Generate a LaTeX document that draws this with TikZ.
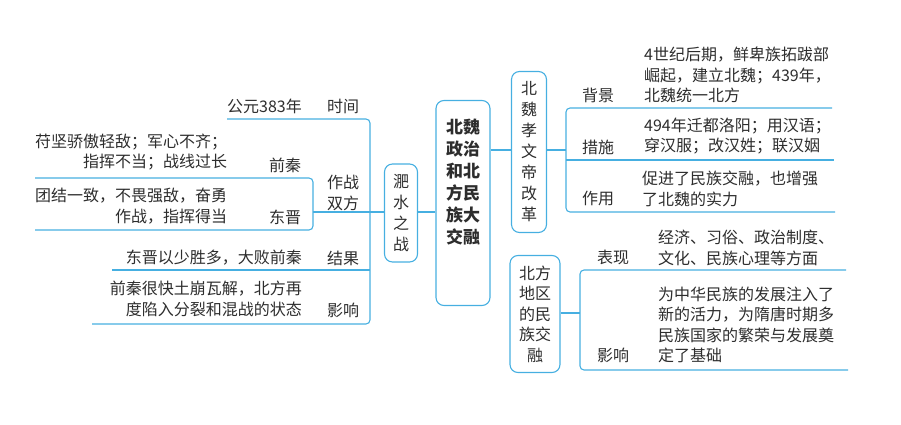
\documentclass[tikz,border=0pt]{standalone}
\usepackage{fontspec}
\newfontfamily\cjk{Noto Sans CJK SC}
\definecolor{mapline}{RGB}{70,175,225}
\definecolor{maptext}{RGB}{45,45,45}
\tikzset{
  branch/.style={draw=mapline, line width=1.1pt, rounded corners=4pt},
  topicbox/.style={draw=mapline, line width=1.1pt, rounded corners=8pt, text=maptext, align=center, inner sep=0pt},
  txt/.style={text=maptext, inner sep=0pt, font=\cjk\fontsize{16}{20.5}\selectfont},
}
\begin{document}
\begin{tikzpicture}[x=1pt,y=-1pt]
\useasboundingbox (0,0) rectangle (901,425);
%% boxes
\node[topicbox, minimum width=54pt, minimum height=205pt, font=\cjk\bfseries\fontsize{17}{22}\selectfont] (main) at (463,203) {北魏\\政治\\和北\\方民\\族大\\交融\\[22pt]};
\node[topicbox, minimum width=33pt, minimum height=98pt, font=\cjk\fontsize{16}{21}\selectfont] (feishui) at (401,213) {淝\\水\\之\\战};
\node[topicbox, minimum width=35pt, minimum height=161pt, font=\cjk\fontsize{16}{21}\selectfont] (reform) at (529,152) {北\\魏\\孝\\文\\帝\\改\\革};
\node[topicbox, minimum width=50pt, minimum height=117pt, font=\cjk\fontsize{16}{20.5}\selectfont] (fusion) at (535,314) {北方\\地区\\的民\\族交\\融};
\draw[branch] (main.west |- 0,212) -- (feishui.east |- 0,212);
\draw[branch] (main.east |- 0,150) -- (reform.west |- 0,150);
%% left tree
\coordinate (t1) at (227,119);
\coordinate (t2a) at (35,178);
\coordinate (t2b) at (35,230);
\coordinate (t3) at (112,270);
\coordinate (t4) at (92,324);
\draw[branch] (t1) -- (370,119) -- (370,324) -- (t4);
\draw[branch] (feishui.west |- 0,212) -- (370,212);
\draw[branch] (370,270) -- (t3);
\draw[branch] (370,212) -- (313,212);
\draw[branch] (t2a) -- (313,178) -- (313,230) -- (t2b);
\node[txt, anchor=west] (shijian) at (327,106) {时间};
\node[txt, anchor=east] (nian) at (302,106) {公元383年};
\node[txt, anchor=west, align=left] (zuozhan) at (327,193) {作战\\双方};
\node[txt, anchor=west] (qianqin) at (269,165) {前秦};
\node[txt, anchor=west] (dongjin) at (269,217) {东晋};
\node[txt, anchor=west, align=right] (qqtxt) at (35,152) {苻坚骄傲轻敌；军心不齐；\\指挥不当；战线过长};
\node[txt, anchor=west, align=right] (djtxt) at (35,206) {团结一致，不畏强敌，奋勇\\作战，指挥得当};
\node[txt, anchor=west] (jieguo) at (327,258) {结果};
\node[txt, anchor=east] (jgtxt) at (302,258) {东晋以少胜多，大败前秦};
\node[txt, anchor=west] (yingxiang) at (327,310) {影响};
\node[txt, anchor=east, align=right] (yxtxt) at (302,299) {前秦很快土崩瓦解，北方再\\度陷入分裂和混战的状态};
%% right tree, reform
\coordinate (r1) at (832,108);
\coordinate (r2) at (834,160);
\coordinate (r3) at (835,212);
\draw[branch] (reform.east |- 0,150) -- (566,150);
\draw[branch] (r1) -- (566,108) -- (566,212) -- (r3);
\draw[branch] (566,160) -- (r2);
\node[txt, anchor=west] (beijing) at (582,95) {背景};
\node[txt, anchor=west, align=left] (bjtxt) at (644,75) {4世纪后期，鲜卑族拓跋部\\崛起，建立北魏；439年，\\北魏统一北方};
\node[txt, anchor=west] (cuoshi) at (582,147) {措施};
\node[txt, anchor=west, align=left] (cstxt) at (644,136) {494年迁都洛阳；用汉语；\\穿汉服；改汉姓；联汉姻};
\node[txt, anchor=west] (zuoyong) at (582,198) {作用};
\node[txt, anchor=west, align=left] (zytxt) at (642,189) {促进了民族交融，也增强\\了北魏的实力};
%% right tree, fusion
\coordinate (f1) at (846,270);
\coordinate (f2) at (848,370);
\draw[branch] (fusion.east |- 0,313) -- (580,313);
\draw[branch] (f1) -- (580,270) -- (580,370) -- (f2);
\node[txt, anchor=west] (biaoxian) at (597,257) {表现};
\node[txt, anchor=west, align=left] (bxtxt) at (658,248) {经济、习俗、政治制度、\\文化、民族心理等方面};
\node[txt, anchor=west] (yingxiang2) at (597,355) {影响};
\node[txt, anchor=west, align=left] (yx2txt) at (658,325) {为中华民族的发展注入了\\新的活力，为隋唐时期多\\民族国家的繁荣与发展奠\\定了基础};
\end{tikzpicture}
\end{document}
